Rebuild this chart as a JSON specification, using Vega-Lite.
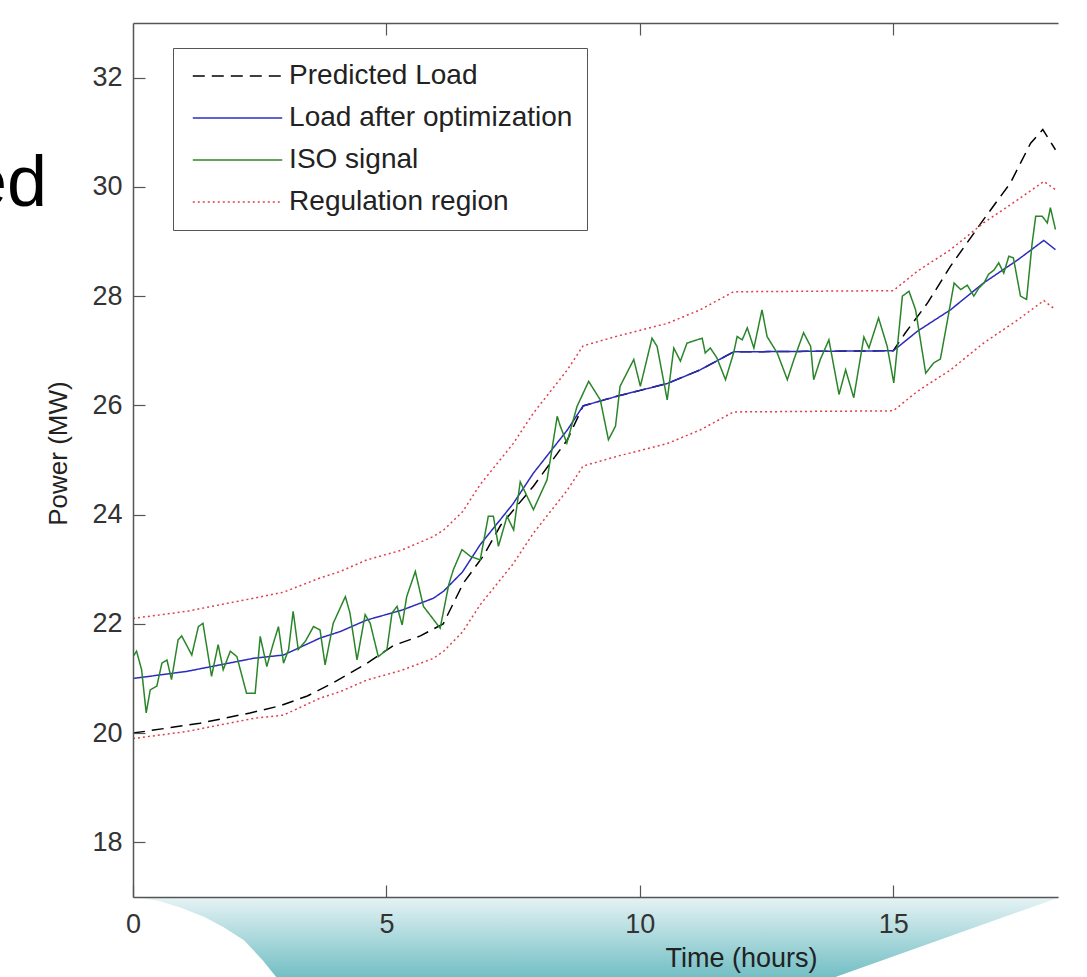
{
  "$schema": "https://vega.github.io/schema/vega-lite/v6.json",
  "width": 925,
  "height": 874,
  "autosize": {"type": "none"},
  "padding": {"left": 133, "top": 23, "right": 29, "bottom": 80},
  "background": "white",
  "title": {"text": "ed", "orient": "top", "anchor": "start", "frame": "group", "fontSize": 72, "font": "Liberation Sans", "fontWeight": "normal", "color": "#000000", "baseline": "alphabetic", "offset": 0, "dx": -166, "dy": 256},
  "config": {
    "view": {"stroke": null},
    "font": "Liberation Sans",
    "axis": {"grid": false, "labelFlush": false, "domainColor": "#555555", "domainWidth": 1.5, "tickColor": "#555555", "tickWidth": 1.2, "tickSize": -12, "labelFont": "Liberation Sans", "labelFontSize": 27, "labelColor": "#333333", "titleFont": "Liberation Sans", "titleFontWeight": "normal", "titleColor": "#222222"}
  },
  "resolve": {"axis": {"x": "independent"}},
  "layer": [
    {
      "data": {"values": [
        {"t": 0, "lo": 17, "hi": 17},
        {"t": 0.5, "lo": 16.93, "hi": 17},
        {"t": 0.96, "lo": 16.8, "hi": 17},
        {"t": 1.4, "lo": 16.64, "hi": 17},
        {"t": 1.78, "lo": 16.45, "hi": 17},
        {"t": 2.19, "lo": 16.21, "hi": 17},
        {"t": 2.55, "lo": 15.85, "hi": 17},
        {"t": 2.9, "lo": 15.45, "hi": 17},
        {"t": 13.6, "lo": 15.45, "hi": 17},
        {"t": 18.3, "lo": 17, "hi": 17}
      ]},
      "mark": {"type": "area", "clip": false, "fill": {"gradient": "linear", "x1": 0, "y1": 0, "x2": 0, "y2": 1, "stops": [{"offset": 0, "color": "#e6f3f4"}, {"offset": 1, "color": "#6cbcc2"}]}},
      "encoding": {
        "x": {"field": "t", "type": "quantitative", "scale": {"domain": [0, 18.25], "nice": false, "zero": false},
              "axis": {"orient": "bottom", "zindex": 1, "values": [0, 5, 10, 15], "labelPadding": 26, "title": "Time (hours)", "titleFontSize": 27, "titleX": 608, "titleY": 69, "titleAlign": "center", "titleBaseline": "alphabetic"}},
        "y": {"field": "lo", "type": "quantitative", "scale": {"domain": [17, 33], "nice": false, "zero": false},
              "axis": {"zindex": 1, "values": [18, 20, 22, 24, 26, 28, 30, 32], "labelPadding": 23, "title": "Power (MW)", "titleFontSize": 26, "titleX": -67, "titleY": 430, "titleAngle": -90, "titleAlign": "center", "titleBaseline": "alphabetic"}},
        "y2": {"field": "hi"}
      }
    },
    {
      "data": {"values": [
        {"s": "Predicted Load", "l": "pred", "t": 0, "p": 20.0},
        {"s": "Predicted Load", "l": "pred", "t": 1.32, "p": 20.18},
        {"s": "Predicted Load", "l": "pred", "t": 2.31, "p": 20.37},
        {"s": "Predicted Load", "l": "pred", "t": 2.9, "p": 20.5},
        {"s": "Predicted Load", "l": "pred", "t": 3.44, "p": 20.68},
        {"s": "Predicted Load", "l": "pred", "t": 3.95, "p": 20.92},
        {"s": "Predicted Load", "l": "pred", "t": 4.62, "p": 21.28},
        {"s": "Predicted Load", "l": "pred", "t": 5.13, "p": 21.6},
        {"s": "Predicted Load", "l": "pred", "t": 5.67, "p": 21.78},
        {"s": "Predicted Load", "l": "pred", "t": 6.12, "p": 22.0},
        {"s": "Predicted Load", "l": "pred", "t": 6.52, "p": 22.75},
        {"s": "Predicted Load", "l": "pred", "t": 6.91, "p": 23.24},
        {"s": "Predicted Load", "l": "pred", "t": 7.25, "p": 23.8},
        {"s": "Predicted Load", "l": "pred", "t": 7.9, "p": 24.52},
        {"s": "Predicted Load", "l": "pred", "t": 8.57, "p": 25.37},
        {"s": "Predicted Load", "l": "pred", "t": 8.88, "p": 25.99},
        {"s": "Predicted Load", "l": "pred", "t": 9.56, "p": 26.17},
        {"s": "Predicted Load", "l": "pred", "t": 10.54, "p": 26.4},
        {"s": "Predicted Load", "l": "pred", "t": 11.19, "p": 26.65},
        {"s": "Predicted Load", "l": "pred", "t": 11.85, "p": 26.98},
        {"s": "Predicted Load", "l": "pred", "t": 15.0, "p": 27.0},
        {"s": "Predicted Load", "l": "pred", "t": 15.24, "p": 27.33},
        {"s": "Predicted Load", "l": "pred", "t": 15.68, "p": 27.88},
        {"s": "Predicted Load", "l": "pred", "t": 16.13, "p": 28.55},
        {"s": "Predicted Load", "l": "pred", "t": 16.78, "p": 29.4},
        {"s": "Predicted Load", "l": "pred", "t": 17.31, "p": 30.07},
        {"s": "Predicted Load", "l": "pred", "t": 17.71, "p": 30.8},
        {"s": "Predicted Load", "l": "pred", "t": 17.95, "p": 31.05},
        {"s": "Predicted Load", "l": "pred", "t": 18.2, "p": 30.68},

        {"s": "Load after optimization", "l": "opt", "t": 0, "p": 21.0},
        {"s": "Load after optimization", "l": "opt", "t": 1.06, "p": 21.13},
        {"s": "Load after optimization", "l": "opt", "t": 2.38, "p": 21.37},
        {"s": "Load after optimization", "l": "opt", "t": 2.97, "p": 21.43},
        {"s": "Load after optimization", "l": "opt", "t": 3.69, "p": 21.74},
        {"s": "Load after optimization", "l": "opt", "t": 4.09, "p": 21.86},
        {"s": "Load after optimization", "l": "opt", "t": 4.61, "p": 22.07},
        {"s": "Load after optimization", "l": "opt", "t": 5.3, "p": 22.25},
        {"s": "Load after optimization", "l": "opt", "t": 5.93, "p": 22.47},
        {"s": "Load after optimization", "l": "opt", "t": 6.13, "p": 22.6},
        {"s": "Load after optimization", "l": "opt", "t": 6.5, "p": 22.95},
        {"s": "Load after optimization", "l": "opt", "t": 6.85, "p": 23.45},
        {"s": "Load after optimization", "l": "opt", "t": 7.5, "p": 24.2},
        {"s": "Load after optimization", "l": "opt", "t": 7.9, "p": 24.76},
        {"s": "Load after optimization", "l": "opt", "t": 8.57, "p": 25.55},
        {"s": "Load after optimization", "l": "opt", "t": 8.88, "p": 25.99},
        {"s": "Load after optimization", "l": "opt", "t": 9.56, "p": 26.17},
        {"s": "Load after optimization", "l": "opt", "t": 10.54, "p": 26.4},
        {"s": "Load after optimization", "l": "opt", "t": 11.19, "p": 26.65},
        {"s": "Load after optimization", "l": "opt", "t": 11.85, "p": 26.98},
        {"s": "Load after optimization", "l": "opt", "t": 15.0, "p": 27.0},
        {"s": "Load after optimization", "l": "opt", "t": 15.48, "p": 27.36},
        {"s": "Load after optimization", "l": "opt", "t": 16.13, "p": 27.75},
        {"s": "Load after optimization", "l": "opt", "t": 16.78, "p": 28.24},
        {"s": "Load after optimization", "l": "opt", "t": 17.45, "p": 28.66},
        {"s": "Load after optimization", "l": "opt", "t": 17.97, "p": 29.02},
        {"s": "Load after optimization", "l": "opt", "t": 18.2, "p": 28.85},

        {"s": "ISO signal", "l": "iso", "t": 0.0, "p": 21.4},
        {"s": "ISO signal", "l": "iso", "t": 0.07, "p": 21.5},
        {"s": "ISO signal", "l": "iso", "t": 0.17, "p": 21.16},
        {"s": "ISO signal", "l": "iso", "t": 0.26, "p": 20.37},
        {"s": "ISO signal", "l": "iso", "t": 0.34, "p": 20.79},
        {"s": "ISO signal", "l": "iso", "t": 0.47, "p": 20.86},
        {"s": "ISO signal", "l": "iso", "t": 0.57, "p": 21.28},
        {"s": "ISO signal", "l": "iso", "t": 0.67, "p": 21.34},
        {"s": "ISO signal", "l": "iso", "t": 0.76, "p": 20.98},
        {"s": "ISO signal", "l": "iso", "t": 0.89, "p": 21.71},
        {"s": "ISO signal", "l": "iso", "t": 0.96, "p": 21.78},
        {"s": "ISO signal", "l": "iso", "t": 1.16, "p": 21.43},
        {"s": "ISO signal", "l": "iso", "t": 1.29, "p": 21.95},
        {"s": "ISO signal", "l": "iso", "t": 1.38, "p": 22.01},
        {"s": "ISO signal", "l": "iso", "t": 1.55, "p": 21.04},
        {"s": "ISO signal", "l": "iso", "t": 1.68, "p": 21.62},
        {"s": "ISO signal", "l": "iso", "t": 1.78, "p": 21.16},
        {"s": "ISO signal", "l": "iso", "t": 1.92, "p": 21.5},
        {"s": "ISO signal", "l": "iso", "t": 2.05, "p": 21.4},
        {"s": "ISO signal", "l": "iso", "t": 2.24, "p": 20.73},
        {"s": "ISO signal", "l": "iso", "t": 2.41, "p": 20.73},
        {"s": "ISO signal", "l": "iso", "t": 2.51, "p": 21.77},
        {"s": "ISO signal", "l": "iso", "t": 2.64, "p": 21.22},
        {"s": "ISO signal", "l": "iso", "t": 2.77, "p": 21.65},
        {"s": "ISO signal", "l": "iso", "t": 2.87, "p": 21.95},
        {"s": "ISO signal", "l": "iso", "t": 2.97, "p": 21.28},
        {"s": "ISO signal", "l": "iso", "t": 3.07, "p": 21.53},
        {"s": "ISO signal", "l": "iso", "t": 3.16, "p": 22.23},
        {"s": "ISO signal", "l": "iso", "t": 3.26, "p": 21.53},
        {"s": "ISO signal", "l": "iso", "t": 3.4, "p": 21.68},
        {"s": "ISO signal", "l": "iso", "t": 3.56, "p": 21.95},
        {"s": "ISO signal", "l": "iso", "t": 3.69, "p": 21.89},
        {"s": "ISO signal", "l": "iso", "t": 3.79, "p": 21.25},
        {"s": "ISO signal", "l": "iso", "t": 3.95, "p": 22.01},
        {"s": "ISO signal", "l": "iso", "t": 4.19, "p": 22.5},
        {"s": "ISO signal", "l": "iso", "t": 4.28, "p": 22.2},
        {"s": "ISO signal", "l": "iso", "t": 4.42, "p": 21.34},
        {"s": "ISO signal", "l": "iso", "t": 4.58, "p": 22.17},
        {"s": "ISO signal", "l": "iso", "t": 4.68, "p": 22.01},
        {"s": "ISO signal", "l": "iso", "t": 4.84, "p": 21.4},
        {"s": "ISO signal", "l": "iso", "t": 5.01, "p": 21.53},
        {"s": "ISO signal", "l": "iso", "t": 5.11, "p": 22.2},
        {"s": "ISO signal", "l": "iso", "t": 5.21, "p": 22.32},
        {"s": "ISO signal", "l": "iso", "t": 5.31, "p": 21.98},
        {"s": "ISO signal", "l": "iso", "t": 5.4, "p": 22.5},
        {"s": "ISO signal", "l": "iso", "t": 5.57, "p": 22.96},
        {"s": "ISO signal", "l": "iso", "t": 5.73, "p": 22.32},
        {"s": "ISO signal", "l": "iso", "t": 5.83, "p": 22.2},
        {"s": "ISO signal", "l": "iso", "t": 6.06, "p": 21.92},
        {"s": "ISO signal", "l": "iso", "t": 6.23, "p": 22.72},
        {"s": "ISO signal", "l": "iso", "t": 6.32, "p": 22.99},
        {"s": "ISO signal", "l": "iso", "t": 6.49, "p": 23.36},
        {"s": "ISO signal", "l": "iso", "t": 6.65, "p": 23.24},
        {"s": "ISO signal", "l": "iso", "t": 6.85, "p": 23.17},
        {"s": "ISO signal", "l": "iso", "t": 7.01, "p": 23.97},
        {"s": "ISO signal", "l": "iso", "t": 7.11, "p": 23.97},
        {"s": "ISO signal", "l": "iso", "t": 7.21, "p": 23.42},
        {"s": "ISO signal", "l": "iso", "t": 7.38, "p": 23.97},
        {"s": "ISO signal", "l": "iso", "t": 7.51, "p": 23.72},
        {"s": "ISO signal", "l": "iso", "t": 7.64, "p": 24.6},
        {"s": "ISO signal", "l": "iso", "t": 7.9, "p": 24.09},
        {"s": "ISO signal", "l": "iso", "t": 8.17, "p": 24.64},
        {"s": "ISO signal", "l": "iso", "t": 8.37, "p": 25.8},
        {"s": "ISO signal", "l": "iso", "t": 8.43, "p": 25.62},
        {"s": "ISO signal", "l": "iso", "t": 8.56, "p": 25.31},
        {"s": "ISO signal", "l": "iso", "t": 8.76, "p": 25.98},
        {"s": "ISO signal", "l": "iso", "t": 8.99, "p": 26.44},
        {"s": "ISO signal", "l": "iso", "t": 9.22, "p": 26.1},
        {"s": "ISO signal", "l": "iso", "t": 9.38, "p": 25.37},
        {"s": "ISO signal", "l": "iso", "t": 9.52, "p": 25.62},
        {"s": "ISO signal", "l": "iso", "t": 9.61, "p": 26.35},
        {"s": "ISO signal", "l": "iso", "t": 9.88, "p": 26.84},
        {"s": "ISO signal", "l": "iso", "t": 10.01, "p": 26.35},
        {"s": "ISO signal", "l": "iso", "t": 10.24, "p": 27.23},
        {"s": "ISO signal", "l": "iso", "t": 10.34, "p": 27.08},
        {"s": "ISO signal", "l": "iso", "t": 10.54, "p": 26.1},
        {"s": "ISO signal", "l": "iso", "t": 10.67, "p": 27.05},
        {"s": "ISO signal", "l": "iso", "t": 10.8, "p": 26.81},
        {"s": "ISO signal", "l": "iso", "t": 10.93, "p": 27.14},
        {"s": "ISO signal", "l": "iso", "t": 11.23, "p": 27.23},
        {"s": "ISO signal", "l": "iso", "t": 11.29, "p": 26.96},
        {"s": "ISO signal", "l": "iso", "t": 11.39, "p": 27.05},
        {"s": "ISO signal", "l": "iso", "t": 11.52, "p": 26.87},
        {"s": "ISO signal", "l": "iso", "t": 11.69, "p": 26.47},
        {"s": "ISO signal", "l": "iso", "t": 11.85, "p": 26.96},
        {"s": "ISO signal", "l": "iso", "t": 11.92, "p": 27.26},
        {"s": "ISO signal", "l": "iso", "t": 12.02, "p": 27.2},
        {"s": "ISO signal", "l": "iso", "t": 12.12, "p": 27.42},
        {"s": "ISO signal", "l": "iso", "t": 12.25, "p": 27.05},
        {"s": "ISO signal", "l": "iso", "t": 12.41, "p": 27.75},
        {"s": "ISO signal", "l": "iso", "t": 12.51, "p": 27.26},
        {"s": "ISO signal", "l": "iso", "t": 12.71, "p": 26.96},
        {"s": "ISO signal", "l": "iso", "t": 12.91, "p": 26.47},
        {"s": "ISO signal", "l": "iso", "t": 13.04, "p": 26.84},
        {"s": "ISO signal", "l": "iso", "t": 13.23, "p": 27.33},
        {"s": "ISO signal", "l": "iso", "t": 13.37, "p": 27.08},
        {"s": "ISO signal", "l": "iso", "t": 13.43, "p": 26.47},
        {"s": "ISO signal", "l": "iso", "t": 13.56, "p": 26.84},
        {"s": "ISO signal", "l": "iso", "t": 13.73, "p": 27.2},
        {"s": "ISO signal", "l": "iso", "t": 13.93, "p": 26.2},
        {"s": "ISO signal", "l": "iso", "t": 14.06, "p": 26.65},
        {"s": "ISO signal", "l": "iso", "t": 14.22, "p": 26.14},
        {"s": "ISO signal", "l": "iso", "t": 14.42, "p": 27.25},
        {"s": "ISO signal", "l": "iso", "t": 14.52, "p": 27.05},
        {"s": "ISO signal", "l": "iso", "t": 14.71, "p": 27.6},
        {"s": "ISO signal", "l": "iso", "t": 14.88, "p": 27.08},
        {"s": "ISO signal", "l": "iso", "t": 15.01, "p": 26.41},
        {"s": "ISO signal", "l": "iso", "t": 15.18, "p": 28.0},
        {"s": "ISO signal", "l": "iso", "t": 15.31, "p": 28.09},
        {"s": "ISO signal", "l": "iso", "t": 15.44, "p": 27.75},
        {"s": "ISO signal", "l": "iso", "t": 15.64, "p": 26.59},
        {"s": "ISO signal", "l": "iso", "t": 15.8, "p": 26.78},
        {"s": "ISO signal", "l": "iso", "t": 15.93, "p": 26.85},
        {"s": "ISO signal", "l": "iso", "t": 16.06, "p": 27.51},
        {"s": "ISO signal", "l": "iso", "t": 16.2, "p": 28.24},
        {"s": "ISO signal", "l": "iso", "t": 16.33, "p": 28.12},
        {"s": "ISO signal", "l": "iso", "t": 16.46, "p": 28.2},
        {"s": "ISO signal", "l": "iso", "t": 16.59, "p": 28.0},
        {"s": "ISO signal", "l": "iso", "t": 16.69, "p": 28.15},
        {"s": "ISO signal", "l": "iso", "t": 16.79, "p": 28.24},
        {"s": "ISO signal", "l": "iso", "t": 16.88, "p": 28.4},
        {"s": "ISO signal", "l": "iso", "t": 16.99, "p": 28.48},
        {"s": "ISO signal", "l": "iso", "t": 17.08, "p": 28.61},
        {"s": "ISO signal", "l": "iso", "t": 17.18, "p": 28.42},
        {"s": "ISO signal", "l": "iso", "t": 17.28, "p": 28.73},
        {"s": "ISO signal", "l": "iso", "t": 17.37, "p": 28.7},
        {"s": "ISO signal", "l": "iso", "t": 17.51, "p": 28.0},
        {"s": "ISO signal", "l": "iso", "t": 17.63, "p": 27.94},
        {"s": "ISO signal", "l": "iso", "t": 17.74, "p": 28.97},
        {"s": "ISO signal", "l": "iso", "t": 17.81, "p": 29.46},
        {"s": "ISO signal", "l": "iso", "t": 17.94, "p": 29.46},
        {"s": "ISO signal", "l": "iso", "t": 18.04, "p": 29.34},
        {"s": "ISO signal", "l": "iso", "t": 18.1, "p": 29.62},
        {"s": "ISO signal", "l": "iso", "t": 18.2, "p": 29.22},

        {"s": "Regulation region", "l": "up", "t": 0, "p": 22.1},
        {"s": "Regulation region", "l": "up", "t": 1.06, "p": 22.23},
        {"s": "Regulation region", "l": "up", "t": 2.38, "p": 22.47},
        {"s": "Regulation region", "l": "up", "t": 2.97, "p": 22.58},
        {"s": "Regulation region", "l": "up", "t": 3.69, "p": 22.84},
        {"s": "Regulation region", "l": "up", "t": 4.09, "p": 22.96},
        {"s": "Regulation region", "l": "up", "t": 4.61, "p": 23.17},
        {"s": "Regulation region", "l": "up", "t": 5.3, "p": 23.35},
        {"s": "Regulation region", "l": "up", "t": 5.93, "p": 23.6},
        {"s": "Regulation region", "l": "up", "t": 6.13, "p": 23.72},
        {"s": "Regulation region", "l": "up", "t": 6.5, "p": 24.05},
        {"s": "Regulation region", "l": "up", "t": 6.85, "p": 24.55},
        {"s": "Regulation region", "l": "up", "t": 7.5, "p": 25.3},
        {"s": "Regulation region", "l": "up", "t": 7.9, "p": 25.86},
        {"s": "Regulation region", "l": "up", "t": 8.57, "p": 26.65},
        {"s": "Regulation region", "l": "up", "t": 8.88, "p": 27.09},
        {"s": "Regulation region", "l": "up", "t": 9.56, "p": 27.27},
        {"s": "Regulation region", "l": "up", "t": 10.54, "p": 27.5},
        {"s": "Regulation region", "l": "up", "t": 11.19, "p": 27.75},
        {"s": "Regulation region", "l": "up", "t": 11.85, "p": 28.08},
        {"s": "Regulation region", "l": "up", "t": 15.0, "p": 28.1},
        {"s": "Regulation region", "l": "up", "t": 15.48, "p": 28.46},
        {"s": "Regulation region", "l": "up", "t": 16.13, "p": 28.85},
        {"s": "Regulation region", "l": "up", "t": 16.78, "p": 29.34},
        {"s": "Regulation region", "l": "up", "t": 17.45, "p": 29.76},
        {"s": "Regulation region", "l": "up", "t": 17.97, "p": 30.1},
        {"s": "Regulation region", "l": "up", "t": 18.2, "p": 29.95},

        {"s": "Regulation region", "l": "low", "t": 0, "p": 19.9},
        {"s": "Regulation region", "l": "low", "t": 1.06, "p": 20.03},
        {"s": "Regulation region", "l": "low", "t": 2.38, "p": 20.27},
        {"s": "Regulation region", "l": "low", "t": 2.97, "p": 20.33},
        {"s": "Regulation region", "l": "low", "t": 3.69, "p": 20.64},
        {"s": "Regulation region", "l": "low", "t": 4.09, "p": 20.76},
        {"s": "Regulation region", "l": "low", "t": 4.61, "p": 20.97},
        {"s": "Regulation region", "l": "low", "t": 5.3, "p": 21.15},
        {"s": "Regulation region", "l": "low", "t": 5.93, "p": 21.37},
        {"s": "Regulation region", "l": "low", "t": 6.13, "p": 21.5},
        {"s": "Regulation region", "l": "low", "t": 6.5, "p": 21.85},
        {"s": "Regulation region", "l": "low", "t": 6.85, "p": 22.35},
        {"s": "Regulation region", "l": "low", "t": 7.5, "p": 23.1},
        {"s": "Regulation region", "l": "low", "t": 7.9, "p": 23.66},
        {"s": "Regulation region", "l": "low", "t": 8.57, "p": 24.45},
        {"s": "Regulation region", "l": "low", "t": 8.88, "p": 24.89},
        {"s": "Regulation region", "l": "low", "t": 9.56, "p": 25.07},
        {"s": "Regulation region", "l": "low", "t": 10.54, "p": 25.3},
        {"s": "Regulation region", "l": "low", "t": 11.19, "p": 25.55},
        {"s": "Regulation region", "l": "low", "t": 11.85, "p": 25.88},
        {"s": "Regulation region", "l": "low", "t": 15.0, "p": 25.9},
        {"s": "Regulation region", "l": "low", "t": 15.48, "p": 26.26},
        {"s": "Regulation region", "l": "low", "t": 16.13, "p": 26.65},
        {"s": "Regulation region", "l": "low", "t": 16.78, "p": 27.14},
        {"s": "Regulation region", "l": "low", "t": 17.45, "p": 27.56},
        {"s": "Regulation region", "l": "low", "t": 17.97, "p": 27.92},
        {"s": "Regulation region", "l": "low", "t": 18.2, "p": 27.75}
      ]},
      "mark": {"type": "line", "strokeWidth": 1.5, "clip": true},
      "encoding": {
        "x": {"field": "t", "type": "quantitative", "scale": {"domain": [0, 18.25], "nice": false, "zero": false},
              "axis": {"orient": "top", "zindex": 1, "values": [5, 10, 15], "labels": false, "title": null}},
        "y": {"field": "p", "type": "quantitative", "scale": {"domain": [17, 33], "nice": false, "zero": false},
              "axis": {"zindex": 1, "values": [18, 20, 22, 24, 26, 28, 30, 32], "labelPadding": 23, "title": "Power (MW)", "titleFontSize": 26, "titleX": -67, "titleY": 430, "titleAngle": -90, "titleAlign": "center", "titleBaseline": "alphabetic"}},
        "color": {"field": "s", "type": "nominal",
                  "scale": {"domain": ["Predicted Load", "Load after optimization", "ISO signal", "Regulation region"], "range": ["#000000", "#2b2bbf", "#2a852a", "#e0404a"]},
                  "legend": {"orient": "none", "legendX": 40, "legendY": 25, "title": null, "symbolType": "M-4,0H4", "symbolSize": 500, "symbolStrokeWidth": 1.5, "symbolOffset": 36.5, "labelOffset": 37.6, "labelFontSize": 28, "labelFont": "Liberation Sans", "labelColor": "#222222", "rowPadding": 14, "padding": 14, "strokeColor": "#555555", "fillColor": "#ffffff", "labelLimit": 400}},
        "strokeDash": {"field": "s", "type": "nominal",
                  "scale": {"domain": ["Predicted Load", "Load after optimization", "ISO signal", "Regulation region"], "range": [[12, 7], [1, 0], [1, 0], [2, 3]]},
                  "legend": {"orient": "none", "legendX": 40, "legendY": 25, "title": null, "symbolType": "M-4,0H4", "symbolSize": 500, "symbolStrokeWidth": 1.5, "symbolOffset": 36.5, "labelOffset": 37.6, "labelFontSize": 28, "labelFont": "Liberation Sans", "labelColor": "#222222", "rowPadding": 14, "padding": 14, "strokeColor": "#555555", "fillColor": "#ffffff", "labelLimit": 400}},
        "detail": {"field": "l"}
      }
    }
  ]
}
